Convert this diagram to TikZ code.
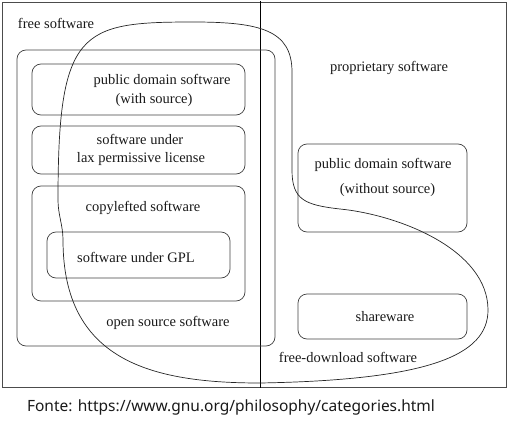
\documentclass[tikz,border=0pt]{standalone}
\usepackage{fontspec}
\setmainfont{Liberation Serif}
\newfontfamily\capfont{Noto Sans}
\begin{document}
\begin{tikzpicture}[x=1pt,y=-1pt,
  box/.style={draw=black!75, line width=0.7pt, rounded corners=9pt, inner sep=0pt},
  lbl/.style={font=\rmfamily\fontsize{14.5}{16}\selectfont, inner sep=0pt, anchor=center, text=black!90},
  curve/.style={draw=black!85, line width=0.7pt}
]
\useasboundingbox (0,0) rectangle (519,436);
% outer frame
\node[draw=black!70, line width=0.8pt, minimum width=504pt, minimum height=385pt, inner sep=0pt] (frame) at (254,194.5) {};
\coordinate (dtop) at (260,1.5);
\coordinate (dbot) at (260,387.5);
\draw[black, line width=0.9pt] (dtop) -- (dbot);
% boxes
\node[box, minimum width=258pt, minimum height=296pt] (os) at (146,198) {};
\node[box, minimum width=213pt, minimum height=51pt] (pd) at (138.5,89.5) {};
\node[box, minimum width=213pt, minimum height=48pt] (lax) at (138.5,150) {};
\node[box, minimum width=213pt, minimum height=115pt] (cl) at (138.5,243.5) {};
\node[box, minimum width=183pt, minimum height=46pt] (gpl) at (138.5,255) {};
\node[box, minimum width=169pt, minimum height=88pt] (pdw) at (382.5,188) {};
\node[box, minimum width=169pt, minimum height=45pt] (sw) at (382.5,316.5) {};
% free-download curve
\draw[curve] (58,200) .. controls (58,30) and (80,22) .. (193,22)
  .. controls (260,22) and (292,30) .. (292,72)
  -- (292,170)
  .. controls (292,200) and (305,205) .. (340,209)
  .. controls (400,215) and (488,250) .. (488,310)
  .. controls (488,355) and (430,380) .. (260,383)
  .. controls (150,383) and (63,360) .. (63,240)
  .. controls (63,225) and (58,215) .. (58,200) -- cycle;
% labels
\node[lbl] (tfree) at (56,23) {free software};
\node[lbl] (tpd1) at (162,81) {public domain software};
\node[lbl] (tpd2) at (154,100) {(with source)};
\node[lbl] (tlax1) at (140,139) {software under};
\node[lbl] (tlax2) at (141,159) {lax permissive license};
\node[lbl] (tcl) at (143,208) {copylefted software};
\node[lbl] (tgpl) at (136,257) {software under GPL};
\node[lbl] (tos) at (168,323) {open source software};
\node[lbl] (tprop) at (389,68) {proprietary software};
\node[lbl] (tpdw1) at (383,165) {public domain software};
\node[lbl] (tpdw2) at (387.5,190) {(without source)};
\node[lbl] (tsw) at (385,317) {shareware};
\node[lbl] (tfd) at (348,357) {free-download software};
\node[font=\capfont\fontsize{15.5}{17}\selectfont, inner sep=0pt, text=black!90] (cap) at (231,407) {Fonte: https://www.gnu.org/philosophy/categories.html};
\end{tikzpicture}
\end{document}
